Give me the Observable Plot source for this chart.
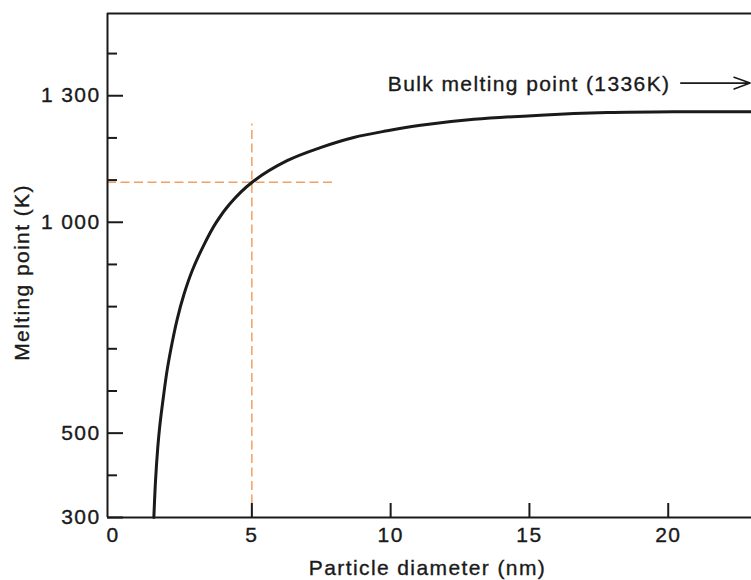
<!DOCTYPE html>
<html>
<head>
<meta charset="utf-8">
<script src="https://cdn.jsdelivr.net/npm/d3@7"></script>
<script src="https://cdn.jsdelivr.net/npm/@observablehq/plot@0.6"></script>
<style>
  body { margin: 0; background: #fff; }
  svg { display: block; }
  svg text { stroke: #1a1a1a; stroke-width: 0.35px; }
</style>
</head>
<body>
<div id="chart"></div>
<script>
// ---- data ----
const diameter     = [1.47, 1.53, 1.61, 1.68, 1.81, 1.95, 2.13, 2.31, 2.55, 2.85, 3.27, 3.70, 4.21, 5.01, 6.27, 7.47, 8.67, 9.88, 11.08, 13.0, 15.4, 17.8, 20.2, 22.96];
const meltingPoint = [300,  387,  465,  515,  584,  650,  715,  770,  828,  885,  946,  998,  1044, 1095, 1146, 1177, 1201, 1217, 1230,  1244, 1254, 1260, 1262, 1262];

const xDomain = [-0.2, 23];
const yDomain = [300, 1495];

const xTickValues = [0, 5, 10, 15, 20];
const xTickLabels = ["0", "5", "10", "15", "20"];
const yTickValues = [300, 500, 1000, 1300];
const yTickLabels = ["300", "500", "1 000", "1 300"];
const yMinorTicks = [400, 600, 700, 800, 900, 1100, 1200, 1400];

const guideDiameter = [5];
const guideMelting = [1095];
const guideVerticalTop = [1233];
const guideHorizontalEnd = [8.07];

const bulkLabel = ["Bulk melting point (1336K)"];
const bulkLabelX = [20.08];
const bulkArrowX1 = [20.45];
const bulkArrowX2 = [22.95];
const bulkArrowY = [1330];

const xLabel = ["Particle diameter (nm)"];
const yLabel = ["Melting point (K)"];

// ---- build ----
const curve = diameter.map((d, i) => ({d, t: meltingPoint[i]}));
const ink = "#1a1a1a";
const orange = "#f2a062";
const font = "'Liberation Sans', Arial, Helvetica, sans-serif";

const chart = Plot.plot({
  width: 751,
  height: 580,
  marginLeft: 107,
  marginRight: 0,
  marginTop: 13,
  marginBottom: 63,
  style: {fontFamily: font, fontSize: "21px", color: ink, letterSpacing: "1.4px", background: "#fff"},
  x: {domain: xDomain, axis: null},
  y: {domain: yDomain, axis: null},
  marks: [
    // dashed guide lines
    Plot.ruleX(guideDiameter, {x: d => d, y1: yDomain[0], y2: guideVerticalTop[0], stroke: orange, strokeWidth: 1.5, strokeDasharray: "9,4.5"}),
    Plot.ruleY(guideMelting, {y: d => d, x1: xDomain[0], x2: guideHorizontalEnd[0], stroke: orange, strokeWidth: 1.5, strokeDasharray: "9,4.5"}),
    // frame lines
    Plot.ruleX([xDomain[0]], {stroke: ink, strokeWidth: 2}),
    Plot.ruleY([yDomain[0]], {stroke: ink, strokeWidth: 2}),
    Plot.ruleY([yDomain[1]], {stroke: ink, strokeWidth: 2}),
    // inward ticks
    Plot.axisY(yTickValues, {anchor: "left", tickSize: -16, text: null, label: null, stroke: ink, strokeWidth: 2}),
    Plot.axisY(yMinorTicks, {anchor: "left", tickSize: -10, text: null, label: null, stroke: ink, strokeWidth: 2}),
    Plot.axisX(xTickValues.filter(v => v > 0), {anchor: "bottom", tickSize: -14, text: null, label: null, stroke: ink, strokeWidth: 2}),
    // tick labels
    Plot.axisY(yTickValues, {anchor: "left", tickSize: 0, tickPadding: 7, tickFormat: v => yTickLabels[yTickValues.indexOf(v)], fontSize: 21, fill: ink, label: null}),
    Plot.axisX(xTickValues, {anchor: "bottom", tickSize: 0, tickPadding: 10, tickFormat: v => xTickLabels[xTickValues.indexOf(v)], fontSize: 21, fill: ink, label: null}),
    // curve
    Plot.line(curve, {x: "d", y: "t", curve: "catmull-rom", stroke: ink, strokeWidth: 3}),
    // annotation
    Plot.text(bulkLabel, {x: bulkLabelX[0], y: bulkArrowY[0], text: d => d, textAnchor: "end", lineAnchor: "middle", dy: 1, fontSize: 21, fill: ink}),
    Plot.arrow(bulkArrowY, {x1: bulkArrowX1[0], x2: bulkArrowX2[0], y1: d => d, y2: d => d, stroke: ink, strokeWidth: 1.6, headLength: 16, headAngle: 40}),
    // axis titles
    Plot.text(xLabel, {frameAnchor: "bottom", text: d => d, textAnchor: "middle", lineAnchor: "middle", dy: 51, dx: -2, fontSize: 21, fill: ink}),
    Plot.text(yLabel, {frameAnchor: "left", text: d => d, textAnchor: "middle", rotate: -90, lineAnchor: "middle", dx: -85, dy: 7, fontSize: 21, fill: ink})
  ]
});
document.getElementById("chart").appendChild(chart);
</script>
</body>
</html>
